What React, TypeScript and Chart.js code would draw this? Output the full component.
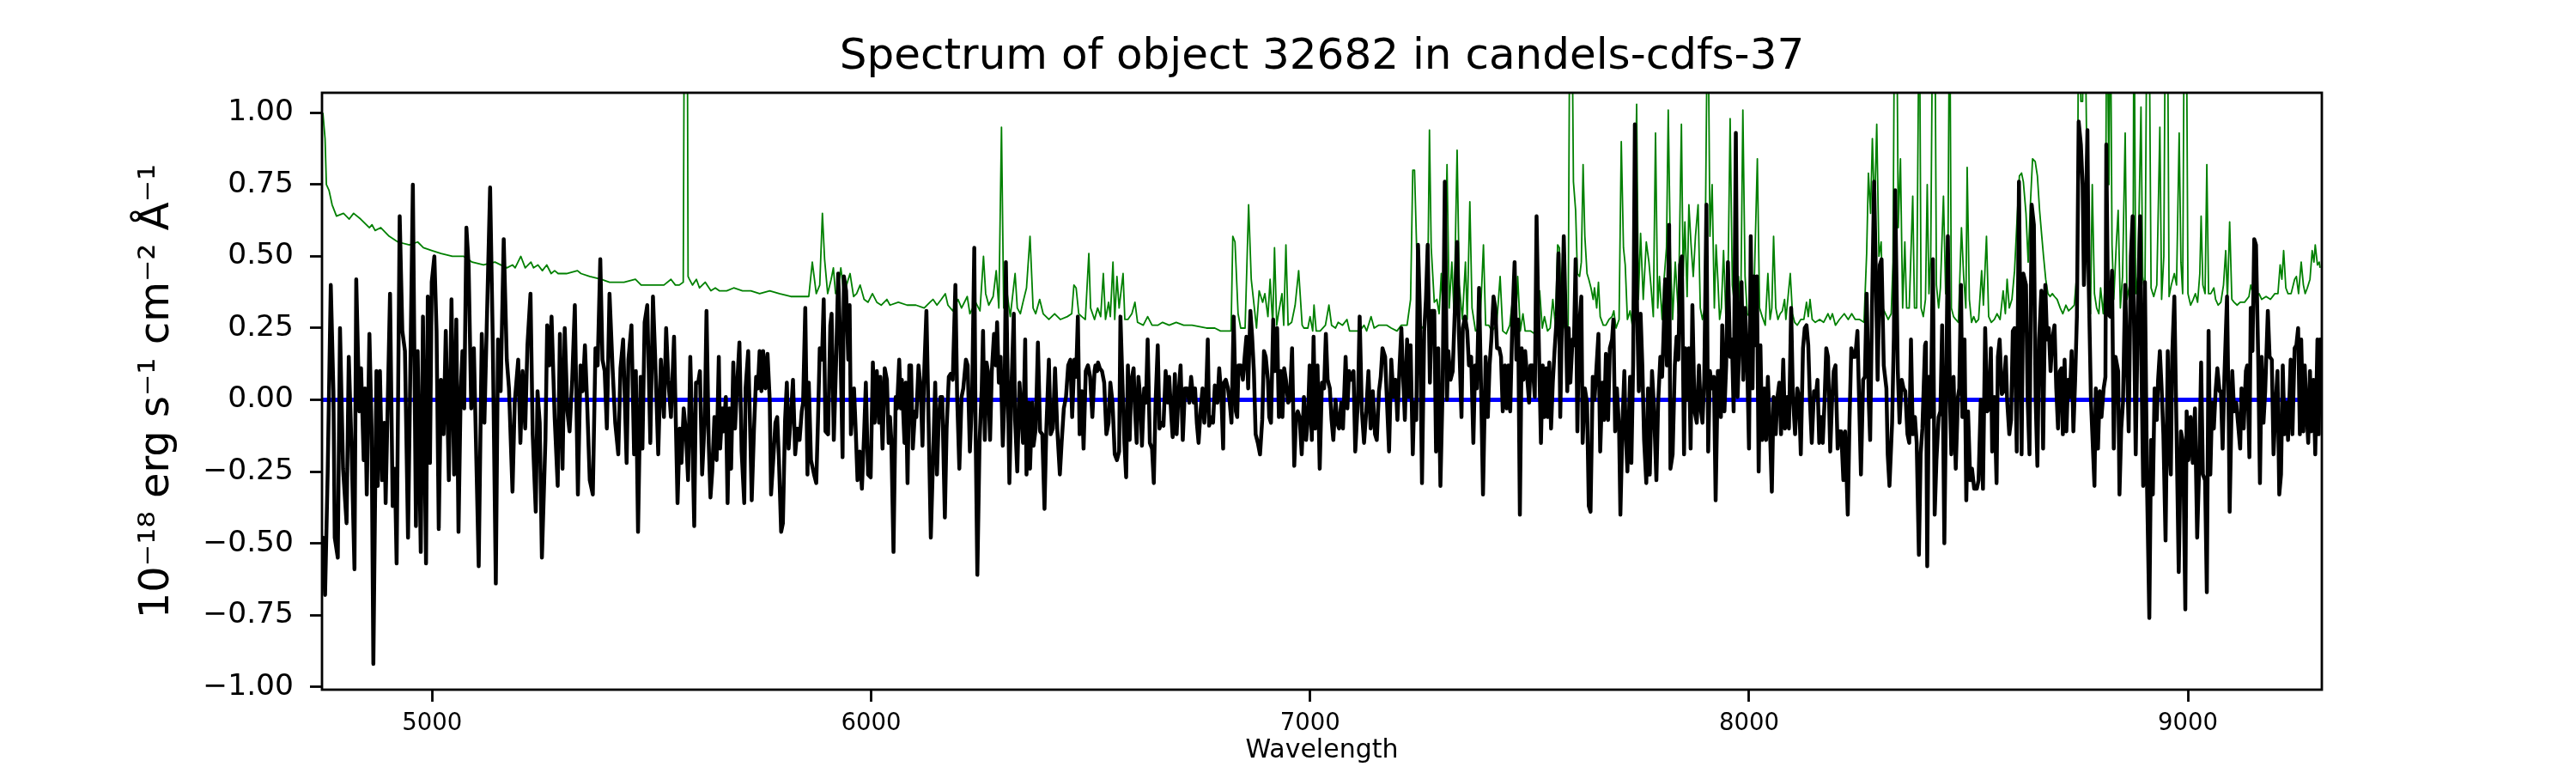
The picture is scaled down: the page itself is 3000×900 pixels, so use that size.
import React, { useEffect, useRef } from 'react';
import { Chart, registerables } from 'chart.js';

Chart.register(...registerables);

const TITLE = 'Spectrum of object 32682 in candels-cdfs-37';
const X_LABEL = 'Wavelength';
const Y_LABEL = '10⁻¹⁸ erg s⁻¹ cm⁻² Å⁻¹';

const xTicks = [5000, 6000, 7000, 8000, 9000];
const yTicks = [-1, -0.75, -0.5, -0.25, 0, 0.25, 0.5, 0.75, 1];
const xRange = [4749, 9305];
const yRange = [-1.01, 1.07];

// blue zero level
const zeroLine: [number, number][] = [[4749, 0], [9277, 0]];

// black: observed flux [wavelength, flux]
const fluxSpectrum: [number, number][] = [
  [4751,-0.48],[4756,-0.68],[4762,-0.25],[4769,0.40],[4775,0.03],[4778,-0.48],[4785,-0.55],[4790,0.25],[4797,-0.24],[4805,-0.43],
  [4810,0.15],[4816,-0.15],[4823,-0.59],[4827,0.42],[4834,-0.04],[4838,0.11],[4844,-0.21],[4847,0.04],[4851,-0.33],[4857,0.23],
  [4862,-0.10],[4866,-0.92],[4873,0.10],[4876,-0.30],[4881,0.10],[4886,-0.28],[4891,-0.08],[4894,-0.36],[4904,0.37],[4910,-0.37],
  [4915,-0.24],[4919,-0.57],[4926,0.64],[4932,0.24],[4938,0.17],[4945,-0.48],[4956,0.75],[4963,-0.44],[4967,0.17],[4974,-0.53],
  [4979,0.29],[4986,-0.57],[4990,0.36],[4995,-0.22],[4999,0.41],[5005,0.50],[5010,0.24],[5015,-0.45],[5020,0.07],[5026,-0.12],
  [5031,0.24],[5038,-0.28],[5044,0.35],[5050,-0.26],[5055,0.28],[5060,-0.46],[5065,0.03],[5069,0.17],[5073,-0.03],[5078,0.60],
  [5083,0.47],[5089,-0.03],[5095,0.18],[5106,-0.58],[5113,0.23],[5119,-0.08],[5132,0.74],[5138,0.21],[5145,-0.64],[5150,0.21],
  [5156,0.03],[5163,0.56],[5170,0.14],[5175,0.04],[5183,-0.32],[5188,-0.01],[5196,0.14],[5201,-0.15],[5206,0.10],[5212,-0.10],
  [5217,0.19],[5224,0.37],[5229,-0.12],[5236,-0.39],[5240,0.03],[5245,-0.08],[5250,-0.55],[5258,-0.14],[5262,0.26],[5267,0.12],
  [5272,0.29],[5279,-0.06],[5286,-0.30],[5291,0.23],[5297,-0.24],[5302,0.25],[5308,-0.04],[5313,-0.11],[5319,0.07],[5325,0.33],
  [5332,-0.33],[5338,0.12],[5343,0.03],[5348,0.19],[5353,-0.01],[5359,-0.28],[5366,-0.33],[5372,0.18],[5377,0.12],[5383,0.49],
  [5388,0.14],[5393,0.10],[5398,-0.10],[5404,0.37],[5411,0.11],[5417,-0.08],[5424,-0.19],[5429,0.11],[5435,0.21],[5443,-0.22],
  [5447,0.14],[5454,0.26],[5460,-0.19],[5464,0.10],[5469,-0.46],[5475,0.08],[5479,-0.17],[5484,0.27],[5490,0.33],[5497,-0.15],
  [5503,0.36],[5508,0.15],[5515,-0.19],[5521,0.14],[5528,-0.06],[5533,0.25],[5538,0.07],[5544,-0.06],[5551,0.22],[5559,-0.36],
  [5564,-0.10],[5568,-0.22],[5573,-0.03],[5578,-0.11],[5583,-0.28],[5588,0.15],[5593,-0.15],[5597,-0.44],[5601,0.06],[5606,0.06],
  [5610,0.10],[5615,-0.26],[5621,-0.07],[5625,0.31],[5630,-0.15],[5634,-0.34],[5638,-0.25],[5643,-0.06],[5648,-0.21],[5653,0.15],
  [5656,-0.17],[5661,-0.03],[5664,-0.11],[5669,0.01],[5673,-0.36],[5677,-0.03],[5681,-0.24],[5686,0.13],[5690,-0.10],[5695,0.06],
  [5700,0.20],[5705,-0.18],[5711,-0.36],[5714,0.04],[5720,0.17],[5725,-0.14],[5728,-0.35],[5733,-0.11],[5738,0.08],[5742,0.04],
  [5746,0.17],[5750,0.03],[5754,0.17],[5759,0.04],[5764,0.16],[5769,0.00],[5772,-0.33],[5777,-0.21],[5782,-0.08],[5786,-0.06],
  [5790,-0.21],[5795,-0.46],[5799,-0.43],[5804,-0.07],[5808,0.06],[5812,-0.17],[5817,-0.06],[5822,0.07],[5827,-0.19],[5832,-0.10],
  [5837,-0.14],[5842,-0.04],[5845,-0.01],[5850,0.32],[5855,-0.26],[5858,0.06],[5863,-0.21],[5870,-0.26],[5875,-0.29],[5879,-0.07],
  [5883,0.18],[5888,0.14],[5892,0.35],[5896,-0.11],[5902,-0.12],[5907,0.26],[5910,0.30],[5915,-0.14],[5920,0.12],[5925,0.44],
  [5930,0.19],[5935,-0.20],[5938,0.43],[5943,0.38],[5948,0.14],[5951,0.33],[5954,-0.12],[5961,0.04],[5965,-0.11],[5969,-0.28],
  [5974,-0.18],[5979,-0.31],[5984,-0.12],[5988,0.06],[5993,-0.26],[5999,-0.27],[6004,0.13],[6008,-0.08],[6013,0.10],[6018,-0.08],
  [6021,0.08],[6026,-0.17],[6031,0.11],[6036,0.07],
  [6040,-0.15],[6043,-0.06],[6046,-0.14],[6051,-0.53],[6056,0.01],[6059,-0.03],[6064,0.14],[6068,-0.03],[6070,0.07],[6076,-0.15],
  [6079,0.06],[6083,-0.29],[6087,0.12],[6091,0.12],[6095,-0.17],[6100,-0.04],[6103,-0.06],[6108,0.12],[6113,0.04],[6117,-0.16],
  [6121,0.10],[6126,0.31],[6131,-0.08],[6136,-0.48],[6141,-0.21],[6146,0.06],[6150,-0.26],[6154,-0.07],[6158,0.01],[6162,0.01],
  [6168,-0.41],[6172,-0.10],[6177,0.08],[6181,0.09],[6186,0.07],[6192,0.40],[6196,0.01],[6201,-0.24],[6206,0.01],[6210,0.04],
  [6216,0.14],[6220,0.12],[6225,-0.18],[6230,0.00],[6235,0.53],[6238,-0.10],[6242,-0.61],[6247,-0.15],[6252,0.04],[6255,0.24],
  [6259,-0.14],[6263,0.13],[6266,0.10],[6271,-0.14],[6275,0.10],[6280,0.23],[6284,0.12],[6287,0.27],[6291,0.06],[6295,0.15],
  [6300,-0.16],[6304,0.01],[6307,0.48],[6312,-0.01],[6315,-0.29],[6320,0.06],[6325,0.30],[6328,-0.07],[6333,-0.25],[6338,0.06],
  [6341,-0.01],[6346,-0.15],[6351,0.21],[6354,-0.26],[6359,-0.01],[6362,-0.24],[6367,-0.01],[6370,-0.16],[6375,-0.10],[6380,0.20],
  [6385,-0.11],[6390,-0.12],[6395,-0.38],[6399,-0.11],[6405,0.14],[6409,-0.12],[6414,-0.10],[6419,0.11],[6424,-0.10],[6430,-0.26],
  [6434,-0.15],[6439,-0.03],[6444,0.01],[6449,0.12],[6454,0.14],[6458,-0.06],[6463,0.14],[6467,0.08],[6471,0.29],[6475,-0.12],
  [6480,0.03],[6484,-0.17],[6489,0.10],[6494,0.12],[6499,0.08],[6504,-0.06],[6509,0.10],
  [6511,0.12],[6515,0.10],[6517,0.13],[6521,0.11],[6526,0.10],[6531,0.06],[6536,-0.12],[6541,-0.08],[6545,0.06],[6550,-0.01],
  [6555,-0.19],[6560,-0.21],[6565,-0.18],[6568,0.29],[6574,-0.01],[6577,-0.15],[6581,-0.27],[6585,0.12],[6589,-0.14],[6593,0.07],
  [6598,0.11],[6601,-0.03],[6605,-0.15],[6609,0.08],[6614,-0.01],[6617,-0.16],[6622,0.04],[6626,-0.01],[6630,0.21],[6635,-0.15],
  [6640,-0.17],[6644,-0.29],[6648,-0.01],[6653,0.19],[6657,-0.10],[6661,-0.08],[6666,-0.09],[6671,0.10],[6676,-0.01],[6679,0.08],
  [6684,-0.06],[6687,-0.13],[6692,0.09],[6696,-0.12],[6700,0.01],[6705,0.12],[6710,-0.14],[6715,0.04],[6720,0.04],[6725,-0.01],
  [6729,0.08],[6735,-0.01],[6738,0.04],[6742,-0.08],[6746,-0.15],[6751,-0.03],[6755,0.04],[6759,-0.08],[6763,0.01],[6767,0.21],
  [6770,-0.09],[6776,-0.06],[6779,-0.08],[6783,0.05],[6789,-0.01],[6793,0.11],[6798,0.01],[6802,-0.17],[6804,0.06],[6808,0.07],
  [6813,0.04],[6817,-0.01],[6821,-0.08],[6826,0.29],[6831,-0.04],[6834,-0.06],[6837,0.12],[6842,0.12],[6847,0.07],[6851,0.15],
  [6855,0.22],[6859,0.04],[6864,0.31],[6868,0.22],[6872,0.10],[6876,-0.12],[6881,-0.15],[6886,-0.19],[6891,-0.07],[6895,0.17],
  [6899,0.15],[6904,0.07],[6907,-0.06],[6911,-0.08],[6916,0.28],[6920,0.10],[6925,0.25],[6929,-0.06],[6933,0.10],[6937,-0.06],
  [6941,0.11],[6945,0.07],[6950,-0.01],[6954,0.00],[6959,0.18],[6964,-0.23],[6968,-0.06],[6972,-0.04],[6976,-0.06],[6981,-0.19],
  [6986,0.01],[6991,-0.14],[6995,-0.07],[6999,0.12],[7004,-0.14],[7008,0.22],[7012,-0.10],[7017,0.12],[7022,-0.24],[7027,0.06],
  [7032,0.04],[7036,0.23],[7040,0.07],[7045,0.04],[7049,-0.07],[7053,-0.14],[7058,0.00],[7062,-0.08],[7066,-0.10],[7071,-0.01],
  [7075,-0.10],[7081,0.15],[7085,-0.03],[7089,0.10],[7094,0.07],[7099,0.10],[7103,-0.18],[7109,0.00],[7113,0.29],[7118,-0.04],
  [7123,-0.15],[7128,-0.04],[7133,0.10],[7138,-0.10],[7143,0.03],[7148,-0.12],[7152,-0.14],[7157,0.03],[7161,0.08],[7165,0.18],
  [7171,0.15],[7175,0.00],[7180,-0.18],[7185,0.14],[7190,0.01],[7195,0.07],[7199,-0.07],[7204,0.12],[7208,0.25],[7212,0.08],
  [7216,-0.07],[7221,0.21],[7225,0.01],[7229,0.19],[7234,-0.19],[7237,-0.01],[7242,-0.07],[7246,0.54],[7250,0.32],[7255,-0.29],
  [7260,0.24],[7264,0.35],[7268,0.54],[7273,0.06],[7277,0.31],[7283,0.31],[7287,-0.18],[7292,0.18],[7297,-0.30],[7302,0.04],
  [7307,0.76],[7312,0.00],[7315,0.17],[7320,0.07],[7325,0.10],[7330,0.32],[7335,0.55],[7339,0.24],[7345,-0.06],[7348,0.25],
  [7353,0.29],[7358,0.24],[7362,0.12],[7367,0.15],[7372,-0.15],[7376,0.12],[7380,0.04],[7385,0.39],[7390,0.01],[7394,-0.33],
  [7400,0.15],[7405,-0.06],[7409,0.12],[7413,0.21],[7418,0.36],[7422,0.32],[7426,0.18],[7431,0.18],[7435,0.15],[7439,-0.04],
  [7444,0.12],[7448,-0.03],[7452,0.12],
  [7456,-0.04],[7461,0.28],[7466,0.48],[7470,0.14],[7474,0.28],[7478,-0.40],[7482,0.18],[7486,0.07],[7490,0.17],[7495,0.07],
  [7499,-0.01],[7502,0.12],[7507,0.12],[7512,0.01],[7516,0.64],[7521,0.21],[7526,-0.15],[7530,0.12],[7534,-0.06],[7538,0.11],
  [7542,-0.06],[7545,0.13],[7549,-0.10],[7553,0.06],[7557,0.17],[7562,0.29],[7566,0.51],[7570,-0.06],[7573,0.21],[7578,0.57],
  [7583,0.24],[7586,0.03],[7589,0.25],[7593,0.06],[7598,0.21],[7601,0.19],[7605,0.49],[7609,-0.11],[7613,0.25],[7618,0.36],
  [7621,-0.15],[7626,0.04],[7631,-0.01],[7635,-0.37],[7639,-0.39],[7644,0.08],[7648,0.00],[7652,0.10],[7657,0.23],[7661,-0.18],
  [7666,0.06],[7670,-0.07],[7674,0.16],[7679,-0.07],[7683,0.18],[7688,0.21],[7691,0.28],[7695,-0.11],[7699,0.04],[7704,-0.10],
  [7707,-0.40],[7712,-0.07],[7716,0.10],[7719,-0.11],[7723,-0.25],[7729,0.08],[7732,-0.22],[7736,0.12],[7740,0.96],[7745,0.32],
  [7749,0.03],[7753,0.30],[7757,0.12],[7761,-0.14],[7766,-0.29],[7770,0.04],[7774,-0.26],[7779,0.10],[7783,-0.01],[7789,-0.28],
  [7793,-0.01],[7798,0.15],[7802,0.08],[7805,0.21],[7809,0.42],[7813,0.12],[7818,0.61],[7821,-0.24],[7826,-0.19],[7831,0.12],
  [7835,0.22],[7839,0.14],[7843,0.47],[7847,0.50],[7852,-0.19],[7855,0.18],[7859,0.00],[7863,0.18],[7867,-0.17],[7871,0.33],
  [7876,-0.04],[7881,-0.08],[7886,0.12],[7890,-0.03],[7894,-0.08],[7898,0.07],[7903,0.68],[7907,-0.18],[7911,0.10],[7916,0.04],
  [7920,0.08],[7924,-0.35],[7929,0.10],
  [7933,0.10],[7936,-0.06],[7939,0.26],[7944,-0.04],[7948,0.12],[7952,0.48],[7957,0.15],[7961,0.21],[7965,-0.04],[7970,0.93],
  [7974,0.01],[7978,0.19],[7983,0.41],[7987,0.07],[7991,0.32],[7996,0.12],[8000,-0.17],[8004,0.57],[8008,0.04],[8011,0.43],
  [8014,0.19],[8018,0.43],[8022,-0.25],[8026,0.19],[8030,-0.14],[8035,0.04],[8039,-0.14],[8043,0.08],[8048,-0.12],[8052,-0.32],
  [8056,0.01],[8061,-0.12],[8064,0.00],[8069,0.06],[8073,-0.12],[8078,0.14],[8082,-0.10],[8087,0.01],[8091,-0.10],[8096,0.32],
  [8100,0.01],[8105,-0.12],[8110,0.04],[8114,0.01],[8118,-0.19],[8123,0.18],[8127,0.25],[8131,0.26],[8135,0.19],[8139,-0.01],
  [8143,-0.15],[8148,0.03],[8152,0.01],[8156,0.07],[8160,-0.15],[8164,-0.06],[8168,-0.15],[8172,-0.01],[8176,0.18],[8180,0.15],
  [8185,-0.18],[8189,-0.01],[8193,0.10],[8197,0.12],[8202,-0.17],[8206,-0.11],[8210,-0.11],[8215,-0.28],[8219,-0.11],[8225,-0.40],
  [8229,-0.07],[8233,0.18],[8238,0.15],[8242,0.15],[8247,0.24],[8251,-0.01],[8255,-0.26],[8260,0.07],[8264,0.08],[8268,0.37],
  [8273,-0.01],[8276,-0.14],[8280,0.30],[8285,0.76],[8289,0.44],[8293,0.07],[8298,0.47],[8302,0.49],[8307,0.12],[8313,0.04],
  [8316,-0.19],[8320,-0.30],[8326,-0.08],[8330,0.22],[8333,0.73],[8339,0.10],[8343,-0.08],[8348,0.07],[8352,0.04],[8356,0.03],
  [8361,-0.12],[8365,-0.15],[8369,0.21],[8373,-0.12],[8378,-0.06],[8382,-0.15],[8387,-0.54],[8391,-0.19],[8395,-0.10],[8401,0.19],
  [8403,0.20],[8406,-0.58],[8410,0.08],[8414,-0.06],[8419,0.49],[8423,-0.40],[8427,-0.21],[8432,-0.06],[8436,-0.04],[8440,0.26],
  [8445,-0.50],[8449,0.01],[8453,0.57],[8458,-0.01],[8461,-0.19],[8466,0.08],[8471,-0.24],[8476,0.01],[8479,0.04],[8483,0.40],
  [8486,-0.06],[8491,0.21],[8495,-0.35],[8499,-0.04],[8504,-0.28],[8508,-0.24],[8513,-0.31],[8519,-0.31],[8523,-0.28],[8528,0.00],
  [8533,-0.31],[8538,0.25],[8543,-0.04],[8547,-0.03],[8551,0.18],[8554,-0.18],[8559,0.01],[8564,-0.29],[8567,0.15],[8571,0.21],
  [8576,0.02],[8580,0.03],[8585,0.15],[8588,0.00],[8593,-0.12],[8597,-0.07],[8601,0.24],[8605,0.25],[8610,-0.18],[8615,0.76],
  [8621,-0.19],[8625,0.44],[8631,0.40],[8635,-0.01],[8639,-0.19],[8644,0.68],[8649,0.61],[8653,0.00],[8657,-0.23],[8661,0.21],
  [8666,0.38],[8670,-0.17],[8675,0.40],[8679,0.21],[8683,0.25],[8687,0.10],[8691,0.21],[8696,0.26],[8700,0.04],[8704,-0.10],
  [8708,0.10],[8712,0.11],[8715,-0.12],[8719,0.14],[8723,-0.11],[8727,0.07],[8731,0.01],[8735,0.17],[8739,-0.11],[8743,0.07],
  [8747,0.29],[8751,0.97],[8756,0.89],[8760,0.75],[8763,0.40],[8766,0.54],[8771,0.94],[8774,0.40],[8779,0.00],[8783,-0.15],
  [8787,-0.30],[8790,0.04],[8795,-0.17],[8799,0.03],[8803,-0.06],[8808,0.04],[8812,0.08],[8814,0.89],[8818,0.30],[8823,0.29],
  [8827,0.45],[8831,-0.17],[8835,0.15],[8841,0.10],[8844,-0.33],[8848,-0.10],[8852,-0.01],[8857,0.40],[8861,0.14],[8865,-0.11],
  [8870,0.50],[8874,0.64],
  [8881,-0.19],[8886,0.32],[8891,0.64],[8894,0.12],[8898,-0.30],[8902,0.41],[8907,-0.32],[8912,-0.76],[8916,-0.14],[8920,-0.33],
  [8924,0.04],[8929,-0.07],[8932,0.07],[8936,0.17],[8940,0.04],[8944,-0.12],[8949,-0.49],[8954,0.17],[8958,-0.18],[8961,-0.26],
  [8964,0.15],[8969,0.36],[8974,-0.11],[8979,-0.60],[8984,-0.11],[8989,-0.15],[8994,-0.73],[8997,-0.04],[9001,-0.21],[9006,-0.06],
  [9011,-0.22],[9016,-0.03],[9021,-0.48],[9026,-0.21],[9030,0.13],[9034,-0.26],[9039,-0.28],[9043,-0.67],[9047,0.24],[9051,-0.26],
  [9055,-0.01],[9059,-0.10],[9063,0.03],[9067,0.11],[9072,0.03],[9075,0.03],[9079,-0.17],[9083,0.08],[9089,0.36],[9093,-0.08],
  [9095,-0.39],[9101,0.10],[9105,-0.04],[9110,-0.01],[9114,-0.08],[9119,-0.17],[9122,0.04],[9127,-0.10],[9132,0.10],[9135,0.12],
  [9140,-0.20],[9143,0.32],[9147,0.17],[9151,0.56],[9155,0.54],[9160,0.15],[9164,-0.29],[9168,0.15],[9172,-0.08],[9176,0.03],
  [9182,0.31],[9186,0.15],[9191,0.14],[9195,-0.19],[9200,-0.01],[9204,0.10],[9208,-0.33],[9212,-0.26],[9216,0.12],[9220,-0.12],
  [9225,-0.01],[9228,-0.14],[9234,0.14],[9238,-0.12],[9243,0.18],[9247,0.19],[9251,0.25],[9255,-0.12],[9258,0.21],[9263,-0.11],
  [9266,0.12],[9270,-0.03],[9274,-0.15],[9278,0.10],[9281,-0.11],[9286,0.07],[9290,-0.19],[9295,0.21],[9298,-0.12],[9301,0.21],
];

// green: noise / sky spectrum [wavelength, value]
const skyNoise: [number, number][] = [
  [4751,1.00],[4756,0.91],[4759,0.75],[4765,0.73],[4772,0.68],[4782,0.64],[4798,0.65],[4811,0.63],[4821,0.65],[4837,0.63],
  [4857,0.60],[4863,0.61],[4870,0.59],[4883,0.60],[4902,0.57],[4922,0.55],[4948,0.54],[4967,0.55],[4980,0.53],[5000,0.52],
  [5020,0.51],[5046,0.50],[5072,0.50],[5091,0.48],[5117,0.47],[5143,0.48],[5170,0.46],[5183,0.47],[5189,0.46],[5202,0.50],
  [5212,0.46],[5225,0.48],[5231,0.46],[5241,0.47],[5251,0.45],[5261,0.47],[5271,0.44],[5279,0.45],[5287,0.44],[5306,0.44],
  [5331,0.45],[5339,0.44],[5359,0.43],[5385,0.42],[5404,0.41],[5437,0.41],[5463,0.42],[5476,0.40],[5502,0.40],[5528,0.40],
  [5544,0.42],[5554,0.40],[5563,0.40],[5572,0.41],[5576,2.00],[5580,2.00],[5583,0.43],[5586,0.42],[5593,0.40],[5602,0.42],
  [5609,0.39],[5622,0.41],[5635,0.38],[5645,0.39],[5654,0.38],[5671,0.38],[5687,0.39],[5707,0.38],[5726,0.38],[5746,0.37],
  [5769,0.38],[5791,0.37],[5817,0.36],[5843,0.36],[5858,0.36],[5866,0.48],[5875,0.37],[5883,0.40],[5889,0.65],[5894,0.49],
  [5901,0.37],[5909,0.42],[5914,0.46],[5919,0.37],[5925,0.39],[5931,0.46],[5938,0.37],[5944,0.40],[5952,0.44],[5960,0.36],
  [5967,0.37],[5975,0.40],[5984,0.35],[5993,0.34],[6003,0.37],[6013,0.34],[6023,0.33],[6036,0.35],
  [6043,0.33],[6062,0.34],[6082,0.33],[6102,0.33],[6121,0.32],[6134,0.34],[6141,0.35],[6150,0.33],[6160,0.35],[6169,0.37],
  [6175,0.33],[6186,0.31],[6198,0.35],[6206,0.32],[6219,0.36],[6225,0.30],[6238,0.34],[6248,0.31],[6256,0.50],[6261,0.37],
  [6268,0.33],[6278,0.36],[6285,0.45],[6291,0.32],[6297,0.95],[6302,0.32],[6310,0.37],[6317,0.29],[6328,0.44],[6333,0.32],
  [6340,0.30],[6346,0.34],[6354,0.39],[6362,0.57],[6369,0.32],[6375,0.30],[6384,0.35],[6392,0.30],[6405,0.28],[6418,0.30],
  [6431,0.28],[6447,0.29],[6457,0.30],[6462,0.40],[6467,0.39],[6473,0.30],[6480,0.29],[6488,0.28],[6496,0.51],[6500,0.32],
  [6509,0.28],[6516,0.32],[6523,0.29],[6529,0.44],[6534,0.28],[6541,0.34],[6545,0.29],[6551,0.48],[6555,0.28],[6560,0.43],
  [6565,0.32],[6574,0.44],[6578,0.28],[6585,0.28],[6594,0.30],[6601,0.34],[6607,0.27],[6620,0.26],[6630,0.29],[6640,0.26],
  [6653,0.26],[6664,0.27],[6679,0.26],[6695,0.27],[6712,0.26],[6731,0.26],[6764,0.25],[6783,0.25],[6796,0.24],[6820,0.24],
  [6824,0.57],[6829,0.55],[6836,0.30],[6842,0.25],[6852,0.25],[6860,0.68],[6866,0.42],[6871,0.35],[6878,0.25],[6884,0.38],
  [6892,0.34],[6897,0.37],[6904,0.29],[6909,0.42],[6915,0.26],[6919,0.53],[6924,0.26],[6928,0.30],[6936,0.37],[6940,0.26],
  [6945,0.54],[6950,0.26],[6958,0.27],[6966,0.33],[6974,0.45],[6982,0.26],
  [6986,0.25],[6995,0.25],[7000,0.29],[7006,0.24],[7009,0.33],[7014,0.24],[7023,0.24],[7035,0.26],[7043,0.33],[7049,0.26],
  [7058,0.25],[7064,0.27],[7074,0.26],[7084,0.28],[7090,0.24],[7100,0.24],[7113,0.24],[7123,0.26],[7129,0.24],[7139,0.29],
  [7146,0.25],[7156,0.26],[7165,0.26],[7175,0.26],[7185,0.25],[7198,0.24],[7208,0.26],[7221,0.26],[7229,0.35],[7234,0.80],
  [7238,0.80],[7244,0.46],[7250,0.26],[7257,0.25],[7263,0.28],[7268,0.39],[7272,0.94],[7276,0.53],[7283,0.34],[7289,0.35],
  [7294,0.30],[7299,0.44],[7303,0.29],[7309,0.57],[7312,0.82],[7317,0.32],[7323,0.48],[7328,0.30],[7335,0.87],[7340,0.40],
  [7347,0.28],[7354,0.48],[7358,0.28],[7364,0.69],[7369,0.32],[7377,0.24],[7387,0.25],[7395,0.54],[7400,0.26],[7407,0.26],
  [7414,0.24],[7425,0.26],[7433,0.43],[7439,0.24],[7447,0.23],[7455,0.26],
  [7457,0.29],[7463,0.37],[7468,0.25],[7473,0.43],[7479,0.24],[7485,0.30],[7490,0.24],[7502,0.24],[7512,0.23],[7520,0.32],
  [7523,0.38],[7529,0.25],[7534,0.29],[7541,0.24],[7547,0.25],[7553,0.35],[7559,0.26],[7564,0.54],[7568,0.53],[7573,0.28],
  [7583,0.24],[7588,0.26],[7592,1.50],[7596,1.50],[7600,0.76],[7605,0.66],[7609,0.44],[7614,0.43],[7618,0.48],[7622,0.82],
  [7626,0.57],[7631,0.44],[7635,0.42],[7640,0.39],[7645,0.35],[7648,0.39],[7653,0.32],[7657,0.41],[7661,0.29],[7668,0.26],
  [7674,0.26],[7681,0.28],[7688,0.29],[7692,0.31],[7697,0.25],[7704,0.28],[7709,0.90],[7714,0.53],[7718,0.47],[7723,0.28],
  [7729,0.31],[7734,0.26],[7740,0.60],[7744,1.03],[7748,0.35],[7753,0.58],[7759,0.35],[7766,0.55],[7772,0.48],[7777,0.39],
  [7782,0.29],[7787,0.93],[7792,0.32],[7796,0.43],[7802,0.28],[7807,0.43],[7812,0.53],[7816,1.01],[7821,0.50],[7826,0.28],
  [7832,0.48],[7839,0.30],[7846,0.96],[7850,0.43],[7854,0.62],[7859,0.36],[7863,0.68],[7868,0.54],[7873,0.43],[7878,0.57],
  [7884,0.68],[7889,0.32],[7894,0.28],[7899,0.32],[7906,1.50],[7911,0.57],[7916,0.75],[7921,0.32],[7925,0.54],[7929,0.42],
  [7933,0.28],[7937,0.32],[7942,0.52],[7948,0.26],[7952,0.40],[7957,0.98],[7962,0.40],[7967,0.33],[7972,0.26],[7976,0.43],
  [7981,0.29],[7986,1.01],[7991,0.43],[7996,0.30],[8001,0.29],[8006,0.40],[8011,0.35],[8019,0.84],[8024,0.32],[8030,0.29],
  [8037,0.26],[8043,0.44],[8048,0.28],[8052,0.32],[8056,0.57],[8061,0.32],[8066,0.28],[8071,0.30],[8076,0.31],[8081,0.35],
  [8084,0.28],[8089,0.36],[8094,0.44],[8099,0.30],[8104,0.27],[8110,0.26],[8118,0.28],[8125,0.28],[8131,0.34],[8135,0.29],
  [8139,0.35],[8144,0.28],[8151,0.27],[8161,0.28],[8170,0.27],[8180,0.30],[8185,0.28],[8190,0.30],[8197,0.26],[8206,0.28],
  [8217,0.30],[8226,0.28],[8234,0.30],[8242,0.28],[8252,0.28],[8262,0.27],[8268,0.51],[8272,0.79],[8277,0.65],[8281,0.91],
  [8286,0.65],[8291,0.96],[8296,0.50],[8301,0.55],[8305,0.32],[8311,0.30],[8317,0.28],[8324,0.30],[8328,0.48],[8332,1.50],
  [8336,1.50],[8340,0.60],[8345,0.84],[8350,0.32],[8355,0.55],[8359,0.32],[8365,0.32],[8373,0.71],[8377,0.32],[8382,0.32],
  [8388,1.50],[8392,0.32],[8397,0.29],[8402,0.35],
  [8406,0.75],[8410,0.37],[8414,0.50],[8419,1.50],[8423,1.50],[8427,0.40],[8432,0.32],[8436,0.39],[8443,0.71],[8448,0.37],
  [8453,0.43],[8457,1.50],[8461,0.32],[8466,0.29],[8471,0.28],[8477,0.27],[8484,0.60],[8489,0.43],[8494,0.32],[8497,0.81],
  [8502,0.35],[8507,0.27],[8512,0.29],[8517,0.27],[8523,0.28],[8530,0.45],[8534,0.33],[8541,0.57],[8546,0.29],[8552,0.27],
  [8559,0.28],[8565,0.30],[8572,0.28],[8579,0.38],[8584,0.30],[8588,0.42],[8593,0.32],[8599,0.35],[8605,0.45],[8611,0.64],
  [8616,0.78],[8621,0.79],[8625,0.76],[8631,0.65],[8636,0.48],[8641,0.68],[8646,0.84],[8652,0.83],[8657,0.78],[8662,0.66],
  [8667,0.57],[8671,0.50],[8676,0.42],[8681,0.37],[8686,0.36],[8691,0.37],[8696,0.36],[8702,0.35],[8709,0.32],[8715,0.30],
  [8722,0.33],[8728,0.31],[8735,0.32],[8741,0.33],[8748,0.46],[8751,1.50],[8756,1.04],[8760,1.04],[8764,1.50],[8768,1.04],
  [8773,0.40],[8778,0.30],[8782,0.75],[8787,0.37],[8792,0.32],[8797,0.30],[8801,0.39],[8807,0.30],[8812,0.43],[8815,1.50],
  [8820,0.75],[8823,1.50],[8827,0.54],[8831,0.35],[8837,0.55],[8841,0.66],[8846,0.32],[8851,0.43],[8857,0.93],[8861,0.35],
  [8867,0.40],[8872,0.32],[8875,0.44],
  [8877,1.50],[8881,0.37],[8886,0.43],[8893,1.02],[8897,0.43],[8902,0.37],[8907,1.50],[8911,1.50],[8916,0.39],[8922,0.36],
  [8929,0.40],[8936,0.95],[8940,0.35],[8945,0.50],[8949,1.50],[8953,1.50],[8957,0.36],[8962,0.40],[8969,0.44],[8974,0.40],
  [8980,0.93],[8984,0.48],[8988,0.37],[8992,1.50],[8996,1.50],[9000,0.37],[9006,0.33],[9012,0.35],[9017,0.37],[9022,0.34],
  [9027,0.44],[9030,0.64],[9034,0.40],[9039,0.37],[9043,0.82],[9047,0.37],[9052,0.37],[9059,0.39],[9063,0.35],[9069,0.33],
  [9075,0.34],[9081,0.40],[9086,0.52],[9090,0.35],[9095,0.62],[9100,0.35],[9105,0.34],[9112,0.33],[9119,0.34],[9129,0.34],
  [9139,0.36],[9143,0.40],[9148,0.37],[9155,0.36],[9162,0.37],[9168,0.35],[9178,0.36],[9188,0.35],[9198,0.37],[9205,0.37],
  [9210,0.47],[9214,0.42],[9218,0.52],[9223,0.39],[9228,0.37],[9235,0.37],[9243,0.42],[9247,0.43],[9252,0.37],[9258,0.48],
  [9263,0.40],[9267,0.37],[9272,0.39],[9278,0.42],[9283,0.52],[9287,0.48],[9290,0.54],[9295,0.47],[9299,0.48],[9301,0.46],
];

const FONT = 'DejaVu Sans';

const framePlugin = {
  id: 'axesFrame',
  afterDatasetsDraw(chart: any) {
    const { ctx, chartArea } = chart;
    const { left, top, right, bottom } = chartArea;
    ctx.save();
    ctx.strokeStyle = '#000000';
    ctx.lineWidth = 2.8;
    ctx.strokeRect(left, top, right - left, bottom - top);
    ctx.restore();
  },
};

function fmtY(v: number): string {
  const s = Math.abs(v).toFixed(2);
  return v < 0 ? '\u2212' + s : s;
}

export default function App() {
  const canvasRef = useRef<HTMLCanvasElement | null>(null);

  useEffect(() => {
    const canvas = canvasRef.current;
    if (!canvas) return;
    const toXY = (arr: [number, number][]) => arr.map(([x, y]) => ({ x, y }));
    const tickGrid = {
      display: true,
      drawOnChartArea: false,
      drawTicks: true,
      tickLength: 14,
      tickWidth: 2.8,
      tickColor: '#000000',
      color: '#000000',
    };
    const chart = new Chart(canvas, {
      type: 'line',
      data: {
        datasets: [
          {
            label: 'flux',
            data: toXY(fluxSpectrum),
            borderColor: '#000000',
            borderWidth: 4.5,
            borderJoinStyle: 'round',
            borderCapStyle: 'round',
            pointRadius: 0,
            tension: 0,
            fill: false,
            order: 0,
            clip: 0,
          },
          {
            label: 'noise',
            data: toXY(skyNoise),
            borderColor: '#008000',
            borderWidth: 1.8,
            borderJoinStyle: 'round',
            pointRadius: 0,
            tension: 0,
            fill: false,
            order: 1,
            clip: 0,
          },
          {
            label: 'zero',
            data: toXY(zeroLine),
            borderColor: '#0000ff',
            borderWidth: 5.2,
            pointRadius: 0,
            tension: 0,
            fill: false,
            order: 2,
            clip: 0,
          },
        ],
      },
      options: {
        responsive: false,
        maintainAspectRatio: false,
        devicePixelRatio: 1,
        animation: false,
        events: [],
        layout: { padding: { left: 79, right: 0, top: 0, bottom: 0 } },
        plugins: {
          legend: { display: false },
          tooltip: { enabled: false },
          title: {
            display: true,
            text: TITLE,
            color: '#000000',
            font: { family: FONT, size: 50, weight: 'normal', lineHeight: 1.2 },
            padding: { top: 37, bottom: 11 },
          },
        },
        scales: {
          x: {
            type: 'linear',
            position: 'bottom',
            min: xRange[0],
            max: xRange[1],
            afterBuildTicks: (s: any) => {
              s.ticks = xTicks.map((v) => ({ value: v }));
            },
            afterFit: (s: any) => {
              s.height = 97;
            },
            grid: tickGrid,
            border: { display: false },
            ticks: {
              color: '#000000',
              font: { family: FONT, size: 27.5 },
              padding: 9,
              maxRotation: 0,
              autoSkip: false,
              callback: (v: any) => String(v),
            },
            title: {
              display: true,
              text: X_LABEL,
              color: '#000000',
              font: { family: FONT, size: 30, lineHeight: 1.2 },
              padding: { top: 0, bottom: 8 },
            },
          },
          y: {
            type: 'linear',
            position: 'left',
            min: yRange[0],
            max: yRange[1],
            afterBuildTicks: (s: any) => {
              s.ticks = yTicks.map((v) => ({ value: v }));
            },
            afterFit: (s: any) => {
              s.width = 296;
            },
            grid: tickGrid,
            border: { display: false },
            ticks: {
              color: '#000000',
              font: { family: FONT, size: 34.5 },
              padding: 19,
              autoSkip: false,
              callback: (v: any) => fmtY(Number(v)),
            },
            title: {
              display: true,
              text: Y_LABEL,
              color: '#000000',
              font: { family: FONT, size: 48, lineHeight: 1.2 },
              padding: { top: 76, bottom: 0 },
            },
          },
          yRight: {
            type: 'linear',
            position: 'right',
            display: true,
            afterFit: (s: any) => {
              s.width = 296;
            },
            grid: { display: false },
            border: { display: false },
            ticks: { display: false },
          },
        },
      },
      plugins: [framePlugin],
    } as any);
    return () => chart.destroy();
  }, []);

  return (
    <div style={{ position: 'fixed', left: 0, top: 0, width: 3000, height: 900, background: '#ffffff' }}>
      <canvas ref={canvasRef} width={3000} height={900} style={{ display: 'block', width: 3000, height: 900 }} />
    </div>
  );
}
